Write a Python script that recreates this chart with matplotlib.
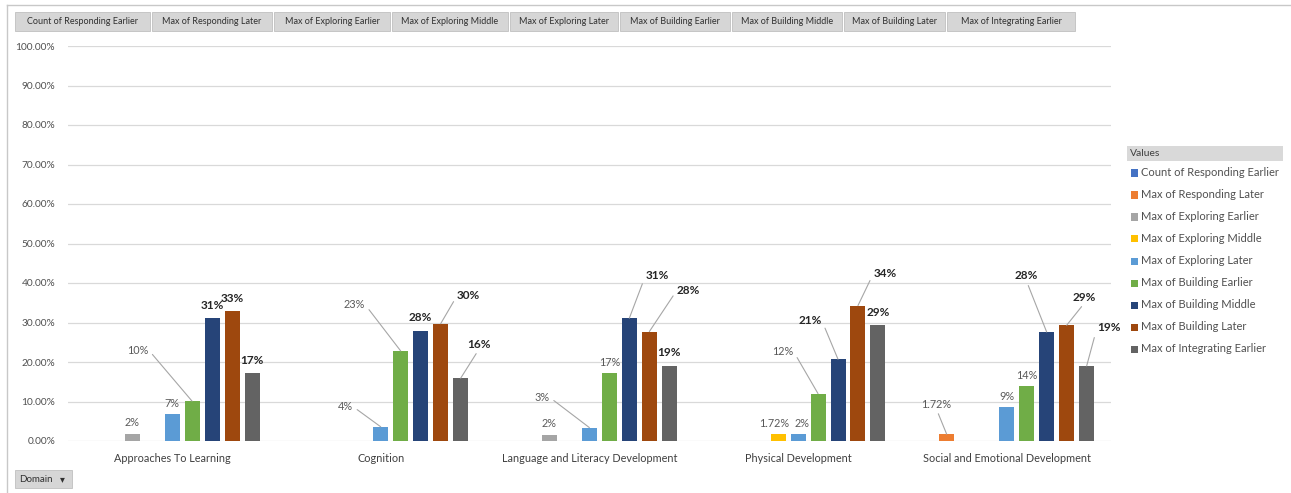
import numpy as np
import matplotlib
matplotlib.use('Agg')
import matplotlib.pyplot as plt
from matplotlib.patches import Rectangle

W, H = 1291, 493
nan = np.nan

domains = ['Approaches To Learning', 'Cognition', 'Language and Literacy Development',
           'Physical Development', 'Social and Emotional Development']

series_names = ['Count of Responding Earlier', 'Max of Responding Later', 'Max of Exploring Earlier',
                'Max of Exploring Middle', 'Max of Exploring Later', 'Max of Building Earlier',
                'Max of Building Middle', 'Max of Building Later', 'Max of Integrating Earlier']

# values per series, one entry per domain (nan = no bar)
count_responding_earlier = [nan, nan, nan, nan, nan]
max_responding_later = [nan, nan, nan, nan, 0.0172]
max_exploring_earlier = [0.018, nan, 0.016, nan, nan]
max_exploring_middle = [nan, nan, nan, 0.0172, nan]
max_exploring_later = [0.068, 0.036, 0.034, 0.0172, 0.086]
max_building_earlier = [0.101, 0.228, 0.172, 0.12, 0.138]
max_building_middle = [0.311, 0.279, 0.311, 0.207, 0.276]
max_building_later = [0.328, 0.297, 0.277, 0.343, 0.293]
max_integrating_earlier = [0.172, 0.159, 0.19, 0.293, 0.19]

series_values = [count_responding_earlier, max_responding_later, max_exploring_earlier,
                 max_exploring_middle, max_exploring_later, max_building_earlier,
                 max_building_middle, max_building_later, max_integrating_earlier]

colors = ['#4472C4', '#ED7D31', '#A5A5A5', '#FFC000', '#5B9BD5',
          '#70AD47', '#264478', '#9E480E', '#636363']
label_fmt = ['{:.0%}', '{:.2%}', '{:.0%}', '{:.2%}', '{:.0%}',
             '{:.0%}', '{:.0%}', '{:.0%}', '{:.0%}']
bold_series = {6, 7, 8}

# label placement (pixel offset of label centre from bar top, leader start point on label)
R, L, B = (1, 0.5), (0, 0.5), (0.5, 0)
leaders = {
    (0, 5): (-54, 51, R),
    (1, 4): (-35, 20, R),
    (1, 5): (-46, 46, R),
    (1, 7): (28, 28, L),
    (1, 8): (18, 34, B),
    (2, 4): (-47, 30, R),
    (2, 6): (28, 43, L),
    (2, 7): (39, 41, L),
    (3, 5): (-35, 42, R),
    (3, 6): (-28, 39, R),
    (3, 7): (27, 32, L),
    (4, 1): (-10, 30, B),
    (4, 6): (-20, 56, B),
    (4, 7): (18, 28, B),
    (4, 8): (22, 38, L),
}
# small sideways nudges for labels that sit right above their bars
nudges = {(3, 3): -4, (3, 4): 4}

FONT = ['Lato', 'DejaVu Sans']
plt.rcParams['font.family'] = FONT

fig = plt.figure(figsize=(W / 100, H / 100), dpi=100)
fig.patch.set_facecolor('white')


def fx(x):
    return x / W


def fy(y):
    return 1 - y / H


ax = fig.add_axes([fx(67.7), fy(441), (1111 - 67.7) / W, 395 / H])

slot = 20 / 208.7
width = 15 / 208.7
xs = np.arange(len(domains))
for i, vals in enumerate(series_values):
    pos = xs + (i - 4) * slot
    ax.bar(pos, vals, width=width, color=colors[i], zorder=3)
    for k, v in enumerate(vals):
        if np.isnan(v):
            continue
        txt = label_fmt[i].format(v)
        if i in bold_series:
            style = dict(fontsize=8.5, fontweight='bold', color='#262626')
            dy = 13
        else:
            style = dict(fontsize=7.8, color='#595959')
            dy = 11
        if (k, i) in leaders:
            dx, dy, rel = leaders[(k, i)]
            ax.annotate(txt, xy=(pos[k], v), xytext=(dx, dy), textcoords='offset pixels',
                        ha='center', va='center', zorder=4,
                        arrowprops=dict(arrowstyle='-', color='#a6a6a6', lw=0.8,
                                        shrinkA=1, shrinkB=0, relpos=rel),
                        **style)
        else:
            ax.annotate(txt, xy=(pos[k], v), xytext=(nudges.get((k, i), 0), dy),
                        textcoords='offset pixels',
                        ha='center', va='center', zorder=4, **style)

ax.set_xlim(-0.5, len(domains) - 0.5)
ax.set_ylim(0, 1.0)
ax.set_yticks(np.arange(0, 1.01, 0.1))
ax.set_yticklabels(['{:.2%}'.format(t) for t in np.arange(0, 1.01, 0.1)])
ax.set_xticks(xs)
ax.set_xticklabels(domains)
ax.tick_params(axis='y', length=0, pad=9, labelsize=7.3, labelcolor='#505050')
ax.tick_params(axis='x', length=0, pad=9, labelsize=7.8, labelcolor='#404040')
ax.yaxis.grid(True, color='#d9d9d9', lw=0.9, zorder=0)
ax.set_axisbelow(True)
for s in ax.spines.values():
    s.set_visible(False)

# outer frame lines (top and left)
fig.add_artist(plt.Line2D([fx(7), 1], [fy(5), fy(5)], color='#c8c8c8', lw=1))
fig.add_artist(plt.Line2D([fx(7), fx(7)], [0, fy(5)], color='#c8c8c8', lw=1))

# field buttons along the top
button_edges = [(15, 150), (152, 272), (274, 390), (392, 508), (510, 618),
                (620, 730), (732, 842), (844, 945), (947, 1075)]
for (x0, x1), name in zip(button_edges, series_names):
    fig.add_artist(Rectangle((fx(x0), fy(31)), (x1 - x0) / W, 19 / H,
                             facecolor='#d6d6d6', edgecolor='#c0c0c0', lw=0.6))
    fig.text(fx((x0 + x1) / 2), fy(21.5), name, ha='center', va='center',
             fontsize=6.5, color='#303030')

# legend on the right
fig.add_artist(Rectangle((fx(1127), fy(161)), 156 / W, 15 / H,
                         facecolor='#d9d9d9', edgecolor='none'))
fig.text(fx(1130), fy(153.5), 'Values', ha='left', va='center', fontsize=7.5, color='#404040')
for i, name in enumerate(series_names):
    yc = 173 + 22 * i
    fig.add_artist(Rectangle((fx(1131), fy(yc + 3.5)), 7 / W, 7 / H,
                             facecolor=colors[i], edgecolor='none'))
    fig.text(fx(1141), fy(yc), name, ha='left', va='center', fontsize=8, color='#505050')

# Domain button at bottom-left
fig.add_artist(Rectangle((fx(15), fy(488)), 57 / W, 18 / H,
                         facecolor='#d6d6d6', edgecolor='#c0c0c0', lw=0.6))
fig.text(fx(19), fy(479), 'Domain', ha='left', va='center', fontsize=7, color='#303030')
fig.text(fx(62), fy(479), '\u25be', ha='center', va='center', fontsize=7,
         color='#303030', family=['DejaVu Sans'])

fig.savefig('out.png', dpi=100)
